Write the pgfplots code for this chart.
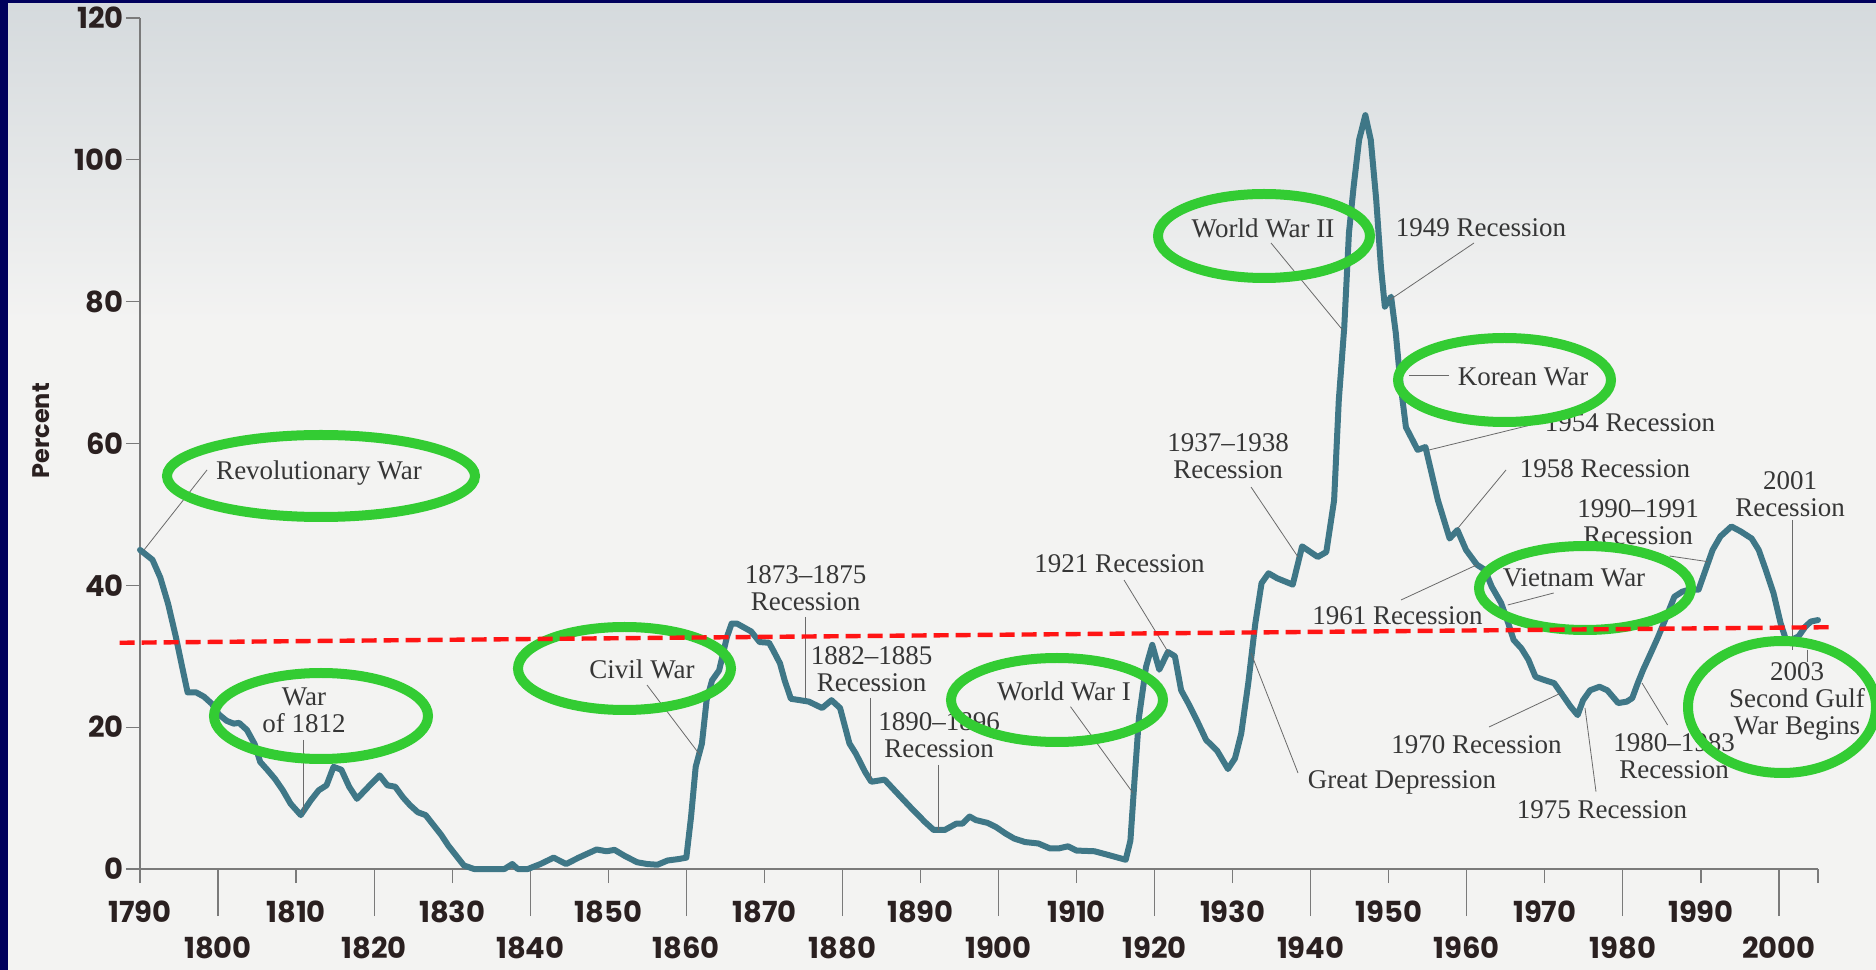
\documentclass[border=0pt]{standalone}
\usepackage{pgfplots}
\pgfplotsset{compat=1.18}
\usepackage{fontspec}
\setmainfont{Liberation Serif}
\newfontfamily\tickfont{Poppins}

\definecolor{navy}{HTML}{00005C}
\definecolor{page}{HTML}{F3F3F2}
\definecolor{pagetop}{HTML}{D5DADD}
\definecolor{curve}{HTML}{3F7787}
\definecolor{anntext}{HTML}{363636}
\definecolor{leadc}{HTML}{6A6A6A}
\definecolor{axisgray}{HTML}{7A7A7A}
\definecolor{ticktext}{HTML}{2A2020}
\definecolor{hlgreen}{HTML}{33CC33}
\definecolor{hlred}{HTML}{FF1414}

\newcommand{\annfont}{\fontsize{13.5}{13.5}\selectfont}

\begin{document}
\begin{tikzpicture}
\path[use as bounding box] (0,0) rectangle (938pt,485pt);
\clip (0,0) rectangle (938pt,485pt);
\fill[navy] (0,0) rectangle (938pt,485pt);
\fill[page] (4pt,0) rectangle (938pt,483pt);
\shade[top color=pagetop, bottom color=page] (4pt,325pt) rectangle (938pt,483pt);

\begin{axis}[
  at={(70pt,50.5pt)}, anchor=south west, scale only axis,
  width=839pt, height=425.5pt,
  xmin=1790, xmax=2005, ymin=0, ymax=120,
  clip=false,
  axis x line=bottom, axis y line=left,
  axis line style={-, draw=axisgray, line width=0.6pt},
  tick style={draw=axisgray, line width=0.6pt},
  tick align=outside, major tick length=7pt,
  xtick={1790,1810,...,1990,2005},
  xticklabels={1790,1810,1830,1850,1870,1890,1910,1930,1950,1970,1990,{}},
  extra x ticks={1800,1820,...,2000},
  extra x tick labels={1800,1820,1840,1860,1880,1900,1920,1940,1960,1980,2000},
  extra x tick style={major tick length=23.5pt, xticklabel style={yshift=-1.5pt}},
  ytick={0,20,...,120},
  tick label style={font=\tickfont\bfseries\fontsize{14.5}{15}\selectfont, text=ticktext},
  /pgf/number format/assume math mode=true,
  /pgf/number format/1000 sep={},
  xticklabel style={anchor=center, inner sep=0pt, yshift=-14.5pt},
  yticklabel style={anchor=east, inner sep=0pt, xshift=-1pt},
  ylabel={Percent},
  every axis y label/.style={at={(axis description cs:-0.059,0.515)}, rotate=90, anchor=center,
     font=\tickfont\bfseries\fontsize{12}{12}\selectfont, text=ticktext},
]
\addplot[curve, line width=3pt, line join=round, line cap=round, mark=none] table {
x y
1790 45.0
1791.6 43.6
1792.6 41.1
1793.6 37.4
1794.6 32.7
1795.4 28.5
1796.1 24.9
1797.2 24.9
1798.2 24.3
1799.2 23.3
1800.1 21.8
1801.1 20.9
1802 20.5
1802.7 20.6
1803.7 19.6
1804.7 17.6
1805.4 15.1
1806.3 14.0
1807.3 12.7
1808.3 11.1
1809.3 9.2
1810.6 7.6
1811.9 9.7
1812.9 11.1
1813.9 11.8
1814.8 14.4
1815.8 14.0
1816.8 11.6
1817.8 9.9
1819.1 11.4
1820.7 13.2
1821.7 11.8
1822.7 11.6
1823.7 10.1
1824.6 9.0
1825.6 8.0
1826.6 7.6
1827.6 6.2
1828.6 4.8
1829.5 3.3
1830.5 1.9
1831.5 0.5
1832.8 0
1836.7 0
1837.7 0.7
1838.4 0
1839.7 0
1841.3 0.7
1843 1.6
1844.6 0.7
1846.2 1.6
1848.5 2.75
1849.8 2.5
1850.8 2.7
1852.1 1.85
1853.7 0.95
1855 0.7
1856.3 0.6
1857.6 1.2
1859 1.4
1860 1.6
1860.6 7.3
1861.2 14.4
1862 17.7
1862.6 23.8
1863.3 26.6
1864.2 28.0
1865.2 32.7
1865.8 34.6
1866.5 34.6
1868.3 33.5
1869.4 32.0
1870.6 31.9
1871.1 30.9
1872 29.0
1872.6 26.6
1873.4 24.0
1874.6 23.8
1875.7 23.6
1877.4 22.7
1878.6 23.8
1879.7 22.7
1880.9 17.7
1881.7 16.3
1882.9 13.7
1883.7 12.3
1885.4 12.6
1887.1 10.6
1888.9 8.5
1890.6 6.6
1891.7 5.5
1893.1 5.5
1894.6 6.4
1895.4 6.4
1896.3 7.4
1897.1 6.9
1898.6 6.5
1899.7 5.9
1900.9 5.0
1902 4.3
1903.4 3.8
1905.1 3.6
1906.6 2.9
1907.7 2.9
1908.9 3.2
1910 2.6
1912.3 2.5
1914 2.0
1916.3 1.3
1916.9 4.0
1917.4 12.1
1918 21.4
1918.9 28.5
1919.7 31.6
1920.6 28.1
1921.7 30.6
1922.6 30.0
1923.4 25.2
1924.3 23.4
1925.4 21.0
1926.6 18.2
1928 16.7
1929.4 14.1
1930.3 15.6
1931.1 19.1
1932 26.2
1932.9 34.6
1933.7 40.3
1934.6 41.7
1935.7 41.0
1937.7 40.1
1938.9 45.5
1940.9 44.0
1942 44.7
1943.0 52.0
1943.6 66.1
1944.3 76.4
1944.9 89.7
1945.5 96.2
1946.2 102.8
1947.0 106.3
1947.7 102.8
1948.4 94.3
1949.0 84.9
1949.5 79.3
1950.3 80.7
1950.9 75.6
1951.5 68.5
1952.2 62.3
1953.7 59.1
1954.7 59.5
1955.3 56.7
1956.3 52.0
1957.8 46.6
1958.8 47.8
1959.9 45.0
1961.3 42.9
1962.3 42.2
1963.2 39.8
1964.4 37.5
1965.3 34.7
1966.0 32.3
1967.0 31.1
1967.9 29.5
1968.8 27.1
1969.8 26.7
1971.2 26.2
1972.1 24.8
1973.3 22.9
1974.2 21.7
1974.9 23.8
1975.8 25.2
1977.0 25.7
1978.0 25.2
1979.4 23.4
1980.5 23.6
1981.2 24.1
1981.9 26.2
1982.6 28.1
1983.6 30.5
1984.5 32.7
1985.4 35.1
1986.6 38.4
1987.6 39.1
1988.5 39.4
1989.7 39.4
1990.6 42.2
1991.5 45.0
1992.5 46.9
1993.9 48.3
1995.1 47.6
1996.5 46.6
1997.4 45.0
1998.3 42.2
1999.3 38.9
2000.2 34.7
2000.9 32.3
2001.6 32.3
2002.5 32.8
2003.4 34.2
2004.1 34.9
2005 35.1
};
\end{axis}

% annotations (coordinates in reference pixels)
\begin{scope}[x=0.5pt, y=-0.5pt, shift={(0pt,485pt)},
  ann/.style={font=\annfont, text=anntext, inner sep=0pt, align=center},
  lead/.style={draw=leadc, line width=0.4pt}]
\node[ann] at (319,473) {Revolutionary War};
\draw[lead] (144,550) -- (207,470);
\node[ann] at (304,710) {War\\of 1812};
\draw[lead] (303.6,740) -- (303.6,813);
\node[ann] at (642,669) {Civil War};
\draw[lead] (647,685) -- (700,755);
\node[ann] at (805.5,588) {1873–1875\\Recession};
\draw[lead] (805,617) -- (805,698);
\node[ann] at (871.5,669) {1882–1885\\Recession};
\draw[lead] (870,698) -- (870,780);
\node[ann] at (939,735) {1890–1896\\Recession};
\draw[lead] (938,765) -- (938,830);
\node[ann] at (1064,691) {World War I};
\draw[lead] (1070.5,706.7) -- (1133,793);
\node[ann] at (1119.6,564) {1921 Recession};
\draw[lead] (1124,580) -- (1168.7,653);
\node[ann] at (1402,782) {Great Depression};
\draw[lead] (1251,653) -- (1298,773);
\node[ann] at (1228,456) {1937–1938\\Recession};
\draw[lead] (1251,487) -- (1298,557);
\node[ann] at (1263,228) {World War II};
\draw[lead] (1271,243) -- (1342.6,330);
\node[ann] at (1481,228) {1949 Recession};
\draw[lead] (1474,243) -- (1389.6,300);
\node[ann] at (1523,377) {Korean War};
\draw[lead] (1449,375) -- (1409,375);
\node[ann] at (1630,423) {1954 Recession};
\draw[lead] (1530.7,425) -- (1429,450);
\node[ann] at (1605,469) {1958 Recession};
\draw[lead] (1506,470) -- (1458,528);
\node[ann] at (1790,494) {2001\\Recession};
\draw[lead] (1792.6,520) -- (1792.6,650);
\node[ann] at (1638,522) {1990–1991\\Recession};
\draw[lead] (1669.5,556) -- (1708,561.7);
\node[ann] at (1397.4,616) {1961 Recession};
\draw[lead] (1401,600) -- (1476.5,565);
\node[ann] at (1574,578) {Vietnam War};
\draw[lead] (1553.7,593) -- (1507.7,605);
\node[ann] at (1476.5,745) {1970 Recession};
\draw[lead] (1489,727) -- (1561,693);
\node[ann] at (1602,810) {1975 Recession};
\draw[lead] (1596,791.7) -- (1585,708);
\node[ann] at (1674,756) {1980–1983\\Recession};
\draw[lead] (1667.6,725) -- (1642,683);
\node[ann] at (1797,701) {2003\\Second Gulf\\War Begins};
\draw[lead] (1807,650) -- (1807,662);

% green highlight ellipses
\begin{scope}[draw=hlgreen, line width=5pt]
\draw (321,476) ellipse [x radius=77pt, y radius=20.5pt];
\draw (321,716) ellipse [x radius=53.5pt, y radius=21.5pt];
\draw (624.5,668.5) ellipse [x radius=53.25pt, y radius=20.75pt];
\draw (1057,700) ellipse [x radius=53pt, y radius=21pt];
\draw (1264,236) ellipse [x radius=53pt, y radius=21pt];
\draw (1504.5,380) ellipse [x radius=53.25pt, y radius=21pt];
\draw (1585,588) ellipse [x radius=53pt, y radius=21pt];
\draw (1782,707) ellipse [x radius=47pt, y radius=33pt];
\end{scope}
\end{scope}

% red dashed reference line
\begin{axis}[
  at={(70pt,50.5pt)}, anchor=south west, scale only axis,
  width=839pt, height=425.5pt,
  xmin=1790, xmax=2005, ymin=0, ymax=120,
  hide axis, clip=false]
\addplot[hlred, line width=2.2pt, dash pattern=on 7.5pt off 3.5pt, mark=none]
  coordinates {(1787.4,31.9) (2006.9,34.1)};
\end{axis}
\end{tikzpicture}
\end{document}
